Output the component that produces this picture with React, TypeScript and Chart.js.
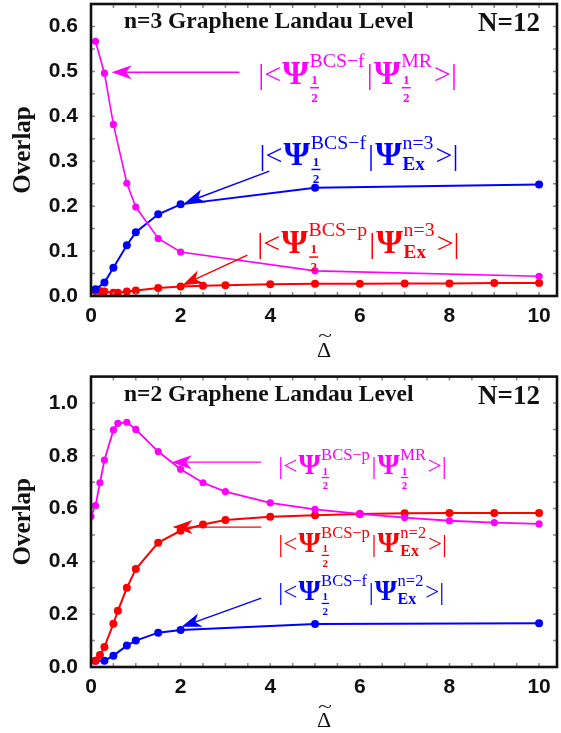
import React, { useEffect, useRef } from "react";
import { Chart, registerables } from "chart.js";

Chart.register(...registerables);

// ---------------- Top panel: n=3 Graphene Landau Level ----------------
const topX_MR = [0.1, 0.3, 0.5, 0.8, 1, 1.5, 2, 5, 10];
const topY_MR = [0.567, 0.496, 0.382, 0.251, 0.198, 0.128, 0.098, 0.056, 0.044];
const topX_BF = [0.1, 0.3, 0.5, 0.8, 1, 1.5, 2, 5, 10];
const topY_BF = [0.015, 0.03, 0.063, 0.113, 0.142, 0.182, 0.204, 0.241, 0.248];
const topX_BP = [0.1, 0.2, 0.3, 0.5, 0.6, 0.8, 1, 1.5, 2, 2.5, 3, 4, 5, 6, 7, 8, 9, 10];
const topY_BP = [0.011, 0.011, 0.01, 0.007, 0.007, 0.01, 0.012, 0.018, 0.021, 0.023, 0.024, 0.026, 0.027, 0.027, 0.028, 0.028, 0.029, 0.029];

// ---------------- Bottom panel: n=2 Graphene Landau Level ----------------
const botX_MR = [0, 0.1, 0.2, 0.3, 0.5, 0.6, 0.8, 1, 1.5, 2, 2.5, 3, 4, 5, 6, 7, 8, 9, 10];
const botY_MR = [0.57, 0.611, 0.698, 0.784, 0.898, 0.923, 0.927, 0.9, 0.816, 0.749, 0.698, 0.664, 0.622, 0.597, 0.58, 0.566, 0.554, 0.547, 0.542];
const botX_BP = [0.1, 0.2, 0.3, 0.5, 0.6, 0.8, 1, 1.5, 2, 2.5, 3, 4, 5, 6, 7, 8, 9, 10];
const botY_BP = [0.024, 0.045, 0.076, 0.164, 0.213, 0.3, 0.371, 0.471, 0.516, 0.54, 0.557, 0.569, 0.575, 0.58, 0.582, 0.583, 0.583, 0.583];
const botX_BF = [0.1, 0.3, 0.5, 0.8, 1, 1.5, 2, 5, 10];
const botY_BF = [0.024, 0.024, 0.043, 0.081, 0.1, 0.13, 0.14, 0.163, 0.166];

// ---------------- Axes / text ----------------
const X_MIN = 0;
const X_MAX = 10.4;
const X_STEP = 2;
const X_MINOR = 0.5;
const TOP_Y_MAX = 0.65;
const TOP_Y_STEP = 0.1;
const TOP_Y_MINOR = 0.05;
const BOT_Y_MAX = 1.1;
const BOT_Y_STEP = 0.2;
const BOT_Y_MINOR = 0.1;
const Y_TITLE = "Overlap";
const X_TITLE = "Δ";
const X_TITLE_ACCENT = "~";
const TOP_TITLE = "n=3 Graphene Landau Level";
const BOT_TITLE = "n=2 Graphene Landau Level";
const N_LABEL = "N=12";

const HALF = "1/2";
const LBL_OPEN = "|<";
const LBL_MID = "|";
const LBL_CLOSE = ">|";

const MAGENTA = "#ff00ff";
const BLUE = "#0000ff";
const RED = "#ff0000";

const SERIF = '"Liberation Serif", "Times New Roman", serif';
const SANS = '"Liberation Sans", Arial, sans-serif';

type Seg = { t: string } | { sup: string; sub: string; frac: boolean };

type Ann = { x: number; y: number; size: number; color: string; segs: Seg[] };
type Arr = { x1: number; y1: number; x2: number; y2: number; color: string; lw: number };

const pts = (xs: number[], ys: number[]) => xs.map((x, i) => ({ x, y: ys[i] }));

function drawMath(ctx: CanvasRenderingContext2D, x: number, y: number, S: number, color: string, segs: Seg[]) {
  ctx.save();
  ctx.fillStyle = color;
  ctx.strokeStyle = color;
  ctx.textAlign = "left";
  ctx.textBaseline = "alphabetic";
  let cx = x;
  for (const s of segs) {
    if ("t" in s) {
      ctx.font = `${S}px ${SERIF}`;
      ctx.fillText(s.t, cx, y);
      cx += ctx.measureText(s.t).width + 0.04 * S;
    } else {
      ctx.font = `bold ${1.14 * S}px ${SERIF}`;
      ctx.fillText("Ψ", cx, y);
      cx += ctx.measureText("Ψ").width + 0.02 * S;
      ctx.font = `${0.66 * S}px ${SERIF}`;
      ctx.fillText(s.sup, cx, y - 0.55 * S);
      const supW = ctx.measureText(s.sup).width;
      let subW = 0;
      if (s.frac) {
        const fs = 0.44 * S;
        ctx.font = `bold ${fs}px ${SERIF}`;
        const [num, den] = s.sub.split("/");
        const w = Math.max(ctx.measureText(num).width, ctx.measureText(den).width);
        const fx = cx + 0.06 * S + w / 2;
        ctx.textAlign = "center";
        ctx.fillText(num, fx, y + 0.02 * S);
        ctx.fillText(den, fx, y + 0.6 * S);
        ctx.textAlign = "left";
        ctx.lineWidth = Math.max(1, 0.05 * S);
        ctx.beginPath();
        ctx.moveTo(fx - w / 2 - 0.04 * S, y + 0.14 * S);
        ctx.lineTo(fx + w / 2 + 0.04 * S, y + 0.14 * S);
        ctx.stroke();
        subW = w + 0.12 * S;
      } else {
        ctx.font = `bold ${0.64 * S}px ${SERIF}`;
        ctx.fillText(s.sub, cx, y + 0.16 * S);
        subW = ctx.measureText(s.sub).width;
      }
      cx += Math.max(supW, subW) + 0.07 * S;
    }
  }
  ctx.restore();
}

function drawArrow(ctx: CanvasRenderingContext2D, x1: number, y1: number, x2: number, y2: number, color: string, lw: number) {
  const L = 20;
  const H = 7;
  const dx = x2 - x1;
  const dy = y2 - y1;
  const len = Math.hypot(dx, dy);
  const ux = dx / len;
  const uy = dy / len;
  const nx = -uy;
  const ny = ux;
  ctx.save();
  ctx.strokeStyle = color;
  ctx.fillStyle = color;
  ctx.lineWidth = lw;
  ctx.beginPath();
  ctx.moveTo(x1, y1);
  ctx.lineTo(x2 - ux * L * 0.6, y2 - uy * L * 0.6);
  ctx.stroke();
  ctx.beginPath();
  ctx.moveTo(x2, y2);
  ctx.lineTo(x2 - ux * L + nx * H, y2 - uy * L + ny * H);
  ctx.lineTo(x2 - ux * L * 0.72, y2 - uy * L * 0.72);
  ctx.lineTo(x2 - ux * L - nx * H, y2 - uy * L - ny * H);
  ctx.closePath();
  ctx.fill();
  ctx.restore();
}

type PanelCfg = {
  height: number;
  padTop: number;
  areaBottom: number;
  yMax: number;
  yStep: number;
  yMinor: number;
  title: string;
  datasets: { xs: number[]; ys: number[]; color: string; lw: number; r: number }[];
  anns: Ann[];
  arrows: Arr[];
  xTitlePad: number;
  xTickPad: number;
};

const halfPsi = (sup: string): Seg => ({ sup, sub: HALF, frac: true });
const exPsi = (sup: string): Seg => ({ sup, sub: "Ex", frac: false });

const topCfg: PanelCfg = {
  height: 365,
  padTop: 3.5,
  areaBottom: 296,
  yMax: TOP_Y_MAX,
  yStep: TOP_Y_STEP,
  yMinor: TOP_Y_MINOR,
  title: TOP_TITLE,
  datasets: [
    { xs: topX_MR, ys: topY_MR, color: MAGENTA, lw: 1.6, r: 3.6 },
    { xs: topX_BF, ys: topY_BF, color: BLUE, lw: 2, r: 4 },
    { xs: topX_BP, ys: topY_BP, color: RED, lw: 2, r: 4 },
  ],
  anns: [
    { x: 3.73, y: 0.473, size: 30, color: MAGENTA, segs: [{ t: LBL_OPEN }, halfPsi("BCS−f"), { t: LBL_MID }, halfPsi("MR"), { t: LBL_CLOSE }] },
    { x: 3.76, y: 0.291, size: 30, color: BLUE, segs: [{ t: LBL_OPEN }, halfPsi("BCS−f"), { t: LBL_MID }, exPsi("n=3"), { t: LBL_CLOSE }] },
    { x: 3.71, y: 0.096, size: 30, color: RED, segs: [{ t: LBL_OPEN }, halfPsi("BCS−p"), { t: LBL_MID }, exPsi("n=3"), { t: LBL_CLOSE }] },
  ],
  arrows: [
    { x1: 3.31, y1: 0.498, x2: 0.46, y2: 0.498, color: MAGENTA, lw: 1.4 },
    { x1: 3.98, y1: 0.278, x2: 2.09, y2: 0.207, color: BLUE, lw: 1.4 },
    { x1: 3.49, y1: 0.091, x2: 2.04, y2: 0.024, color: RED, lw: 1.4 },
  ],
  xTitlePad: 3,
  xTickPad: 9.5,
};

const botCfg: PanelCfg = {
  height: 368,
  padTop: 11.6,
  areaBottom: 302,
  yMax: BOT_Y_MAX,
  yStep: BOT_Y_STEP,
  yMinor: BOT_Y_MINOR,
  title: BOT_TITLE,
  datasets: [
    { xs: botX_MR, ys: botY_MR, color: MAGENTA, lw: 1.8, r: 3.6 },
    { xs: botX_BP, ys: botY_BP, color: RED, lw: 2, r: 4 },
    { xs: botX_BF, ys: botY_BF, color: BLUE, lw: 2, r: 4 },
  ],
  anns: [
    { x: 4.18, y: 0.731, size: 25, color: MAGENTA, segs: [{ t: LBL_OPEN }, halfPsi("BCS−p"), { t: LBL_MID }, halfPsi("MR"), { t: LBL_CLOSE }] },
    { x: 4.18, y: 0.436, size: 25, color: RED, segs: [{ t: LBL_OPEN }, halfPsi("BCS−p"), { t: LBL_MID }, exPsi("n=2"), { t: LBL_CLOSE }] },
    { x: 4.18, y: 0.254, size: 25, color: BLUE, segs: [{ t: LBL_OPEN }, halfPsi("BCS−f"), { t: LBL_MID }, exPsi("n=2"), { t: LBL_CLOSE }] },
  ],
  arrows: [
    { x1: 3.8, y1: 0.776, x2: 1.8, y2: 0.776, color: MAGENTA, lw: 1.4 },
    { x1: 3.8, y1: 0.53, x2: 1.82, y2: 0.53, color: RED, lw: 1.4 },
    { x1: 3.8, y1: 0.261, x2: 2.02, y2: 0.152, color: BLUE, lw: 1.4 },
  ],
  xTitlePad: 0.6,
  xTickPad: 9.5,
};

const X_TITLE_SIZE = 22;

function makeChart(canvas: HTMLCanvasElement, cfg: PanelCfg) {
  const xAxisH = cfg.height - cfg.areaBottom;
  const decor = {
    id: "decor",
    afterDraw(chart: any) {
      const ctx: CanvasRenderingContext2D = chart.ctx;
      const { left, right, top, bottom } = chart.chartArea;
      const xs = chart.scales.x;
      const ys = chart.scales.y;
      ctx.save();
      // inner ticks
      ctx.strokeStyle = "#8a8a8a";
      ctx.lineWidth = 1.5;
      for (let v = X_MIN; v <= X_MAX + 1e-9; v += X_MINOR) {
        const px = xs.getPixelForValue(v);
        if (px < left + 2 || px > right - 2) continue;
        ctx.beginPath();
        ctx.moveTo(px, bottom);
        ctx.lineTo(px, bottom - 4);
        ctx.moveTo(px, top);
        ctx.lineTo(px, top + 4);
        ctx.stroke();
      }
      for (let v = 0; v <= cfg.yMax + 1e-9; v += cfg.yMinor) {
        const py = ys.getPixelForValue(v);
        if (py < top + 2 || py > bottom - 2) continue;
        ctx.beginPath();
        ctx.moveTo(left, py);
        ctx.lineTo(left + 4, py);
        ctx.moveTo(right, py);
        ctx.lineTo(right - 4, py);
        ctx.stroke();
      }
      // frame
      ctx.strokeStyle = "#111";
      ctx.lineWidth = 2.6;
      ctx.strokeRect(left, top, right - left, bottom - top);
      ctx.restore();

      // tilde accent over the x-axis title
      ctx.save();
      ctx.fillStyle = "#111";
      ctx.textAlign = "center";
      ctx.textBaseline = "middle";
      ctx.font = `${X_TITLE_SIZE}px ${SERIF}`;
      const titleCy = chart.height - X_TITLE_SIZE / 2 - cfg.xTitlePad;
      ctx.save();
      ctx.translate((left + right) / 2 + 1, titleCy - 14);
      ctx.scale(1.15, 0.75);
      ctx.fillText(X_TITLE_ACCENT, 0, 0);
      ctx.restore();
      ctx.restore();

      // panel titles
      ctx.save();
      ctx.fillStyle = "#111";
      ctx.textBaseline = "alphabetic";
      ctx.textAlign = "left";
      ctx.font = `bold 23.5px ${SERIF}`;
      ctx.fillText(cfg.title, left + 33, top + 24);
      ctx.textAlign = "right";
      ctx.font = `bold 27px ${SERIF}`;
      ctx.fillText(N_LABEL, right - 17, top + 27);
      ctx.restore();

      // arrows & labels
      for (const a of cfg.arrows) {
        drawArrow(ctx, xs.getPixelForValue(a.x1), ys.getPixelForValue(a.y1), xs.getPixelForValue(a.x2), ys.getPixelForValue(a.y2), a.color, a.lw);
      }
      for (const a of cfg.anns) {
        drawMath(ctx, xs.getPixelForValue(a.x), ys.getPixelForValue(a.y), a.size, a.color, a.segs);
      }
    },
  };

  return new Chart(canvas, {
    type: "line",
    data: {
      datasets: cfg.datasets.map((d) => ({
        data: pts(d.xs, d.ys),
        borderColor: d.color,
        backgroundColor: d.color,
        borderWidth: d.lw,
        pointRadius: d.r,
        pointBorderWidth: 0,
        pointBackgroundColor: d.color,
        tension: 0,
        fill: false,
      })),
    },
    options: {
      responsive: false,
      animation: false,
      devicePixelRatio: 1,
      layout: { padding: { left: 0, right: 2, top: cfg.padTop, bottom: 0 } },
      plugins: { legend: { display: false }, tooltip: { enabled: false }, title: { display: false } },
      scales: {
        x: {
          type: "linear",
          min: X_MIN,
          max: X_MAX,
          grid: { display: false, drawTicks: false },
          border: { display: false },
          ticks: {
            stepSize: X_STEP,
            includeBounds: false,
            maxRotation: 0,
            padding: cfg.xTickPad,
            color: "#111",
            font: { family: SANS, size: 21, weight: "bold", lineHeight: 1 },
            callback: (v: any) => String(Math.round(Number(v))),
          },
          title: {
            display: true,
            text: X_TITLE,
            color: "#111",
            font: { family: SERIF, size: X_TITLE_SIZE, lineHeight: 1 },
            padding: { top: 0, bottom: cfg.xTitlePad },
          },
          afterFit: (s: any) => {
            s.height = xAxisH;
            s.paddingLeft = 0;
            s.paddingRight = 0;
          },
        },
        y: {
          type: "linear",
          min: 0,
          max: cfg.yMax,
          grid: { display: false, drawTicks: false },
          border: { display: false },
          ticks: {
            stepSize: cfg.yStep,
            includeBounds: false,
            padding: 13,
            color: "#111",
            font: { family: SANS, size: 21, weight: "bold", lineHeight: 1 },
            callback: (v: any) => Number(v).toFixed(1),
          },
          title: {
            display: true,
            text: Y_TITLE,
            color: "#111",
            font: { family: SERIF, size: 25, weight: "bold", lineHeight: 1.2 },
            padding: { top: 9, bottom: 0 },
          },
          afterFit: (s: any) => {
            s.width = 91;
            s.paddingTop = 0;
            s.paddingBottom = 0;
          },
        },
      },
    },
    plugins: [decor],
  } as any);
}

function Panel({ cfg }: { cfg: PanelCfg }) {
  const ref = useRef<HTMLCanvasElement>(null);
  useEffect(() => {
    if (!ref.current) return;
    const c = makeChart(ref.current, cfg);
    return () => c.destroy();
  }, [cfg]);
  return <canvas ref={ref} width={561} height={cfg.height} style={{ display: "block", width: 561, height: cfg.height }} />;
}

export default function App() {
  return (
    <div style={{ position: "absolute", left: 0, top: 0, width: 561, height: 733, background: "#fff" }}>
      <Panel cfg={topCfg} />
      <Panel cfg={botCfg} />
    </div>
  );
}
